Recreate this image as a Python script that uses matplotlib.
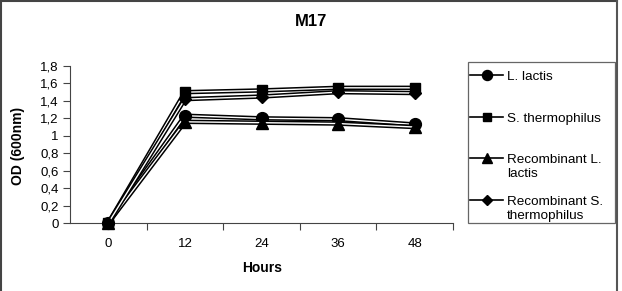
import matplotlib
matplotlib.use("Agg")
import matplotlib.pyplot as plt
import matplotlib.patheffects as pe
from matplotlib.lines import Line2D
from matplotlib.patches import Rectangle

plt.rcParams['font.family'] = ['Liberation Sans', 'DejaVu Sans']

hours = ["0", "12", "24", "36", "48"]
l_lactis = [0.0, 1.23, 1.20, 1.19, 1.13]
s_thermo = [0.0, 1.50, 1.52, 1.55, 1.55]
rec_l_lactis = [0.0, 1.16, 1.15, 1.14, 1.10]
rec_s_thermo = [0.0, 1.42, 1.45, 1.50, 1.49]
series_names = ["L. lactis", "S. thermophilus", "Recombinant L.\nlactis", "Recombinant S.\nthermophilus"]
series_values = [l_lactis, s_thermo, rec_l_lactis, rec_s_thermo]
markers = ["o", "s", "^", "D"]
msizes = [8.5, 6.5, 8, 6.5]
yticks = [0, 0.2, 0.4, 0.6, 0.8, 1.0, 1.2, 1.4, 1.6, 1.8]

W, H = 622, 291
fig = plt.figure(figsize=(W / 100, H / 100), dpi=100)
ax = fig.add_axes([70 / W, 1 - 223 / H, (453 - 70) / W, (223 - 66) / H])

x = list(range(len(hours)))
for i, (vals, m, ms) in enumerate(zip(series_values, markers, msizes)):
    ax.plot(x, vals, color='white', lw=1.0, zorder=3 + 2 * i, clip_on=False,
            path_effects=[pe.Stroke(linewidth=3.2, foreground='black'), pe.Normal()])
    ax.plot(x, vals, ls='none', marker=m, ms=ms, color='black', zorder=4 + 2 * i, clip_on=False)

ax.set_xlim(-0.5, len(hours) - 0.5)
ax.set_ylim(0, 1.8)
ax.set_yticks(yticks)
ax.set_yticklabels([("%g" % v).replace(".", ",") for v in yticks], fontsize=9.5)
ax.set_xticks([i + 0.5 for i in x])
ax.set_xticklabels([])
ax.set_xticks(x, minor=True)
ax.set_xticklabels(hours, minor=True, fontsize=9.5)
ax.tick_params(axis='x', which='major', direction='out', length=5, width=0.8, color='#444444')
ax.tick_params(axis='x', which='minor', length=0, pad=11)
ax.tick_params(axis='y', direction='out', length=5, width=0.8, color='#444444', pad=3)
for s in ['top', 'right']:
    ax.spines[s].set_visible(False)
for s in ['left', 'bottom']:
    ax.spines[s].set_color('#444444')
    ax.spines[s].set_linewidth(0.8)

ax.set_ylabel("OD (600nm)", fontsize=10, fontweight='bold', labelpad=8)
ax.yaxis.set_label_coords(25 / W, 0.5, transform=fig.transFigure)
fig.text(262 / W, 1 - 268 / H, "Hours", fontsize=10, fontweight='bold', ha='center', va='center')
fig.text(311 / W, 1 - 21 / H, "M17", fontsize=12, fontweight='bold', ha='center', va='center')

# Legend
def fx(px):
    return px / W

def fy(py):
    return 1 - py / H

fig.patches.append(Rectangle((fx(468), fy(223)), fx(615) - fx(468), fy(62) - fy(223),
                             transform=fig.transFigure, fill=False, edgecolor='#666666', lw=0.9))
entry_y = [75, 117, 158, 200]
for name, m, ms, ey in zip(series_names, markers, msizes, entry_y):
    fig.lines.append(Line2D([fx(470), fx(503)], [fy(ey), fy(ey)], color='black', lw=1.2,
                            transform=fig.transFigure))
    fig.lines.append(Line2D([fx(486.5)], [fy(ey)], marker=m, ms=ms * 0.85, color='black',
                            ls='none', transform=fig.transFigure))
    fig.text(fx(507), fy(ey - 4), name, fontsize=9.7, ha='left', va='top',
             transform=fig.transFigure, linespacing=1.2)

# Border
fig.lines.append(Line2D([fx(0.8), fx(0.8)], [0, 1], color='#444444', lw=1.5, transform=fig.transFigure))
fig.lines.append(Line2D([0, fx(617)], [fy(0.8), fy(0.8)], color='#444444', lw=1.5, transform=fig.transFigure))
fig.lines.append(Line2D([fx(617), fx(617)], [0, 1], color='#555555', lw=1.5, transform=fig.transFigure))

fig.savefig("out.png", dpi=100)
